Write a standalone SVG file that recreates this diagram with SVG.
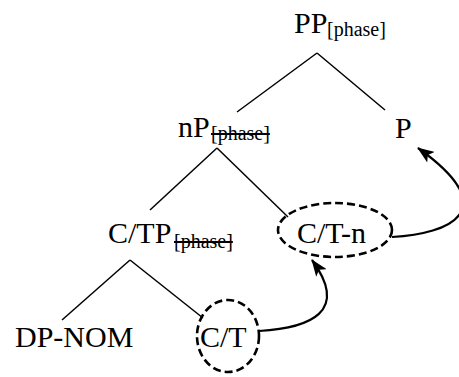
<svg xmlns="http://www.w3.org/2000/svg" width="459" height="377" viewBox="0 0 459 377">
<style>
.lab{font-family:"Liberation Serif","Times New Roman",serif;font-size:30px;fill:#000}
.sub{font-family:"Liberation Serif","Times New Roman",serif;font-size:20px;fill:#000}
.br{stroke:#000;stroke-width:1.5;fill:none}
.dash{stroke:#000;stroke-width:2.6;fill:none;stroke-dasharray:8 4}
.arr{stroke:#000;stroke-width:2.2;fill:none;marker-end:url(#ah)}
</style>
<defs>
<marker id="ah" viewBox="0 0 17 13" refX="16" refY="6.5" markerWidth="17" markerHeight="13" markerUnits="userSpaceOnUse" orient="auto">
<path d="M0,0 L17,6.5 L0,13 L4,6.5 Z" fill="#000"/>
</marker>
</defs>
<rect width="459" height="377" fill="#fff"/>
<g id="connectors">
<line class="br" x1="317" y1="53" x2="237" y2="112"/>
<line class="br" x1="317" y1="53" x2="385" y2="110"/>
<line class="br" x1="217" y1="148" x2="150" y2="210"/>
<line class="br" x1="217" y1="148" x2="288" y2="217"/>
<line class="br" x1="130" y1="260" x2="62" y2="320"/>
<line class="br" x1="130" y1="260" x2="203" y2="318"/>
<path class="arr" d="M259,331 C310,328 350,312 312,260"/>
<path class="arr" d="M392,237 C450,234 505,210 418,148"/>
</g>
<g id="PP">
<text class="lab" x="294" y="33">PP</text>
<text class="sub" x="327" y="35.5">[phase]</text>
</g>
<g id="nP">
<text class="lab" x="178" y="137">nP</text>
<text class="sub" x="211" y="140" text-decoration="line-through">[phase]</text>
</g>
<g id="P">
<text class="lab" x="395" y="138">P</text>
</g>
<g id="CTP">
<text class="lab" x="108" y="243">C/TP</text>
<text class="sub" x="174" y="248" text-decoration="line-through">[phase]</text>
</g>
<g id="CTn">
<ellipse class="dash" cx="335" cy="230" rx="57" ry="27"/>
<text class="lab" x="297" y="243">C/T-n</text>
</g>
<g id="DPNOM">
<text class="lab" x="15" y="347">DP-NOM</text>
</g>
<g id="CT">
<ellipse class="dash" cx="228" cy="336" rx="31" ry="36"/>
<text class="lab" x="200" y="347">C/T</text>
</g>
</svg>
